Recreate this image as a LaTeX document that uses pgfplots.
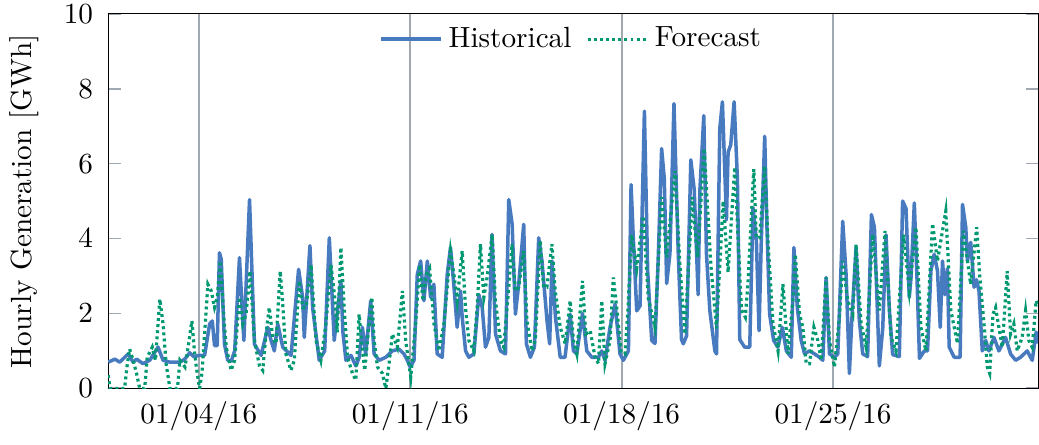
\documentclass[border=0pt]{standalone}
\usepackage{pgfplots}
\pgfplotsset{compat=1.18}
\definecolor{histblue}{RGB}{72,122,192}
\definecolor{fcgreen}{RGB}{0,152,112}
\definecolor{gridgray}{RGB}{160,168,178}
\begin{document}
\begin{tikzpicture}
\begin{axis}[
  scale only axis,
  width=318.5pt, height=128.3pt,
  xmin=0, xmax=739, ymin=0, ymax=10,
  xtick={72,240,408,576},
  xticklabels={01/04/16,01/11/16,01/18/16,01/25/16},
  ytick={0,2,4,6,8,10},
  xmajorgrids,
  major grid style={gridgray, line width=0.7pt},
  tick style={gridgray, line width=0.6pt},
  yticklabel style={inner xsep=5pt, inner ysep=1.5pt},
  xticklabel style={inner ysep=4.5pt},
  ylabel={Hourly Generation [GWh]},
  legend columns=2,
  legend style={at={(0.5,0.998)}, anchor=north, draw=none, fill=none,
    /tikz/every even column/.append style={column sep=3pt}},
  legend image code/.code={\draw[mark repeat=2,mark phase=2,#1] plot coordinates {(0cm,0cm) (0.36cm,0cm) (0.72cm,0cm)};},
  legend cell align=left,
]
\addplot[histblue, line width=1.2pt, line join=round] coordinates {
(0,0.70) (5.3,0.78) (9.2,0.70) (15.8,0.92) (19.8,0.70) (22.5,0.78) (27.7,0.66) (33,0.75)
(39.6,1.10) (43.6,0.75) (49,0.70) (57,0.70) (60.8,0.78) (64.7,0.95) (68,0.85) (72.6,0.88)
(76.6,0.88) (80.6,1.72) (82.7,1.80) (84.5,1.14) (86.6,1.14) (88.4,3.62) (89.8,3.45) (92.4,1.18)
(95,0.75) (97.7,0.72) (100.5,1.0) (104.3,3.49) (107.8,1.28) (112.3,5.04) (116.2,1.18) (121.5,0.88)
(126.8,1.63) (129.4,1.28) (132,1.0) (134.7,1.72) (138.7,1.1) (145.3,0.88) (151.3,3.18) (154.5,2.43)
(155.8,1.36) (160.3,3.81) (162.4,2.16) (167.7,0.75) (172,1.0) (175.7,4.02) (179.6,1.28) (184.9,2.87)
(186.5,1.5) (188.9,0.75) (192.9,0.88) (196.8,0.6) (199.5,0.83) (202,1.63) (204.6,0.92) (208.6,2.34)
(211.3,0.92) (215.3,0.75) (220.6,0.83) (225.8,1.0) (231.1,1.05) (235,0.92) (237.7,0.75) (240,0.57)
(243,0.75) (245.6,3.04) (248.3,3.4) (250.9,2.34) (253.6,3.4) (256.2,2.43) (258.8,2.78) (261.4,0.92)
(265.4,0.83) (269.4,3.04) (272,3.76) (274.6,2.78) (277.3,1.63) (280,2.6) (281.3,1.9) (284,1.0)
(286.6,0.83) (290.6,0.92) (294.5,2.5) (297.2,2.16) (299.8,1.1) (302.5,1.36) (305,4.11) (307.8,1.45)
(311.7,1.0) (315.7,0.92) (318.3,5.04) (321,4.38) (323.6,1.98) (326.2,2.78) (330.2,4.38) (332.3,1.19)
(335.5,0.83) (338.7,1.1) (342.1,4.02) (344.7,3.4) (348.7,1.81) (350.8,1.19) (352.7,3.4) (355.4,1.9)
(359.2,0.83) (363,0.83) (367.1,1.98) (369.7,1.0) (372.4,0.92) (376.9,2.0) (380.3,1.0) (384.3,0.83)
(389.6,0.83) (392.2,1.0) (394.8,0.75) (398.8,1.63) (402.8,2.25) (406.7,0.92) (409.4,0.75) (413.4,1.0)
(415.5,5.44) (417.3,4.0) (420,2.07) (422.6,2.2) (426.1,7.4) (428.7,3.14) (431.9,1.28) (434.5,1.2)
(437.2,3.6) (439.8,6.4) (441.9,5.6) (443.8,2.8) (446.4,3.6) (449.6,7.6) (453,3.6) (455.6,1.3)
(457,1.19) (459.6,1.4) (463,6.1) (465.7,5.3) (468.8,2.5) (470.2,5.3) (473.3,7.28) (475.4,3.6)
(478.1,2.07) (482.1,1.0) (483.4,0.92) (486,6.93) (488.1,7.65) (491.3,4.5) (492.6,6.3) (494.7,6.5)
(497.4,7.65) (500,5.6) (501.9,1.3) (505.8,1.1) (509.8,1.1) (512.4,4.82) (515.1,3.94) (517.2,1.54)
(519,3.94) (521.7,6.73) (523.5,4.29) (525.6,1.98) (528.8,1.28) (532.2,1.1) (535.7,1.63) (538.9,1.0)
(542.8,0.83) (544.9,3.76) (547.6,2.16) (550.7,1.28) (553.4,0.92) (557.3,1.0) (561.3,0.92) (565.2,0.83)
(567.9,0.75) (570.5,2.96) (573.2,0.92) (577.1,0.83) (579.8,0.92) (583.7,4.46) (586.4,3.04) (589,0.4)
(590.9,1.81) (594.3,3.76) (596.9,1.81) (599.6,0.92) (603.5,0.85) (606.5,4.64) (608.9,4.3) (612.8,0.6)
(615.5,1.6) (618.1,4.1) (620.8,2.08) (623.4,0.9) (628.7,0.85) (631.3,5.0) (634,4.8) (636.6,2.43)
(638,2.96) (640.6,4.95) (642.7,2.96) (644.7,0.8) (648.5,1.0) (651.1,1.0) (653.8,3.14) (656.4,3.58)
(659,3.14) (661.2,1.63) (663,3.4) (664.9,2.5) (666.9,3.2) (668.3,1.1) (672.3,0.83) (677,0.83)
(678.9,4.91) (681.5,4.3) (682.8,3.4) (685.4,3.9) (688.1,2.7) (690,2.9) (692,2.6) (694.6,1.0)
(697.3,1.28) (699.9,1.0) (703.9,1.36) (707.8,1.0) (713.1,1.36) (717.1,0.92) (721.1,0.75) (725,0.83)
(730.3,1.0) (734.3,0.75) (737.4,1.5) (739,1.2)
};
\addlegendentry{Historical}
\addplot[fcgreen, line width=1.1pt, dash pattern=on 1pt off 1.1pt] coordinates {
(0,0.35) (1.5,0) (13,0) (15,0.6) (17,1.05) (19.8,0.75) (22.5,0.4) (25,0)
(29,0) (31,0.83) (35,1.1) (37.5,0.75) (41,2.38) (43.6,1.72) (46,0.66) (49,0)
(55,0) (57,0.75) (61,0.57) (63.5,1.1) (66.5,1.8) (68.5,1.0) (70,0.57) (72.6,0)
(74.5,0.4) (79.2,2.78) (81.9,2.6) (84.5,2.16) (86.6,2.4) (89,3.4) (90,3.0) (91.2,2.16)
(93.8,1.1) (97.7,0.48) (100.4,0.75) (104.3,2.43) (106.9,1.72) (109.5,1.98) (112.7,3.13) (116.2,1.28)
(120.2,0.6) (122.8,0.48) (125.4,1.45) (128,2.16) (130.7,1.36) (133.3,1.19) (136.7,3.13) (138.5,2.34)
(141.2,0.92) (145.2,0.48) (147.9,0.75) (151.8,2.87) (154.5,2.16) (157.2,2.16) (161.2,3.3) (165.1,1.28)
(169,0.75) (173,1.72) (177,3.3) (180,2.43) (182,1.5) (184.9,3.76) (187.5,2.16) (190.2,0.83)
(194.1,0.4) (196.8,0.22) (199.4,1.98) (202.1,1.0) (203.9,0.48) (206,1.28) (209.5,2.43) (211.3,1.28)
(214,0.57) (217.9,0.4) (220.6,0) (223.2,0.66) (225.8,1.45) (229.8,1.1) (233.8,2.6) (236.4,1.28)
(240.4,0.3) (244.3,1.72) (247.5,3.3) (250.1,2.34) (252.8,3.04) (255.4,3.2) (258.9,1.72) (262.8,1.0)
(266.8,1.72) (270.7,3.2) (272,3.67) (274.7,3.04) (277.3,2.34) (281.3,3.67) (283.9,2.16) (286.6,1.28)
(290.5,1.0) (293.2,2.16) (295.8,3.85) (298.5,2.43) (301.1,2.96) (305.1,4.11) (307.7,2.34) (311.7,1.28)
(314.3,1.1) (318.3,2.7) (320.9,3.85) (323.5,2.6) (326.2,2.7) (330.1,3.67) (332.8,1.81) (336.7,1.0)
(339.4,1.28) (343.3,3.94) (346,2.7) (348.6,2.7) (352.6,3.85) (355.2,2.6) (359.2,1.63) (363.2,1.19)
(367.1,2.34) (369.7,1.28) (372.4,0.92) (376.9,2.87) (379.5,1.45) (383,1.54) (386.9,0.83) (389.6,0.66)
(392.2,2.34) (394.8,0.66) (398.8,1.28) (401.4,2.96) (404.1,2.16) (407.5,1.0) (410.7,0.92) (413,2.1)
(416,4.1) (420,3.2) (422.5,3.9) (425.3,4.6) (429.2,2.4) (434.5,1.63) (439.8,5.1) (443.8,3.5)
(450.4,5.8) (454.3,3.3) (458.3,1.45) (464.1,5.1) (468.3,3.5) (473.6,6.4) (478.9,3.3) (483.4,1.6)
(488.7,5.0) (492.6,3.1) (497.9,5.9) (503.2,2.1) (506.3,1.9) (508.5,2.87) (513,5.85) (515.1,4.02)
(517.7,4.02) (521.7,5.93) (524.3,3.94) (528.3,1.72) (532.3,1.0) (536.2,2.78) (540.2,0.92) (544.1,2.34)
(546,3.58) (549.4,1.98) (552,1.63) (554.7,0.66) (557.3,0.66) (560.8,1.63) (563.9,1.28) (566.6,0.75)
(570.5,2.96) (573.2,1.28) (577.1,0.57) (581.1,1.9) (583.7,3.4) (587.7,2.34) (591.7,1.98) (594.3,3.85)
(598.3,1.72) (602.3,1.1) (607.5,4.11) (612.8,2.08) (617.3,4.2) (622.1,1.36) (626,1.0) (632.1,4.1)
(636.6,2.6) (641.9,4.3) (645.8,1.63) (649.8,1.0) (655.1,4.4) (659,3.4) (665.6,4.73) (669.6,2.08)
(674.9,1.2) (679.6,4.2) (685.4,2.78) (690.2,4.3) (692.5,3.04) (696,1.72) (698.6,0.57) (700.5,0.4)
(703.1,1.98) (705.2,2.16) (707.8,1.63) (710.5,1.1) (714.4,3.13) (717.1,1.45) (719.7,1.72) (722.4,1.0)
(726.3,1.36) (729,2.07) (731.6,1.28) (734.3,1.1) (737.4,2.34) (739,2.2)
};
\addlegendentry{Forecast}
\end{axis}
\end{tikzpicture}
\end{document}
